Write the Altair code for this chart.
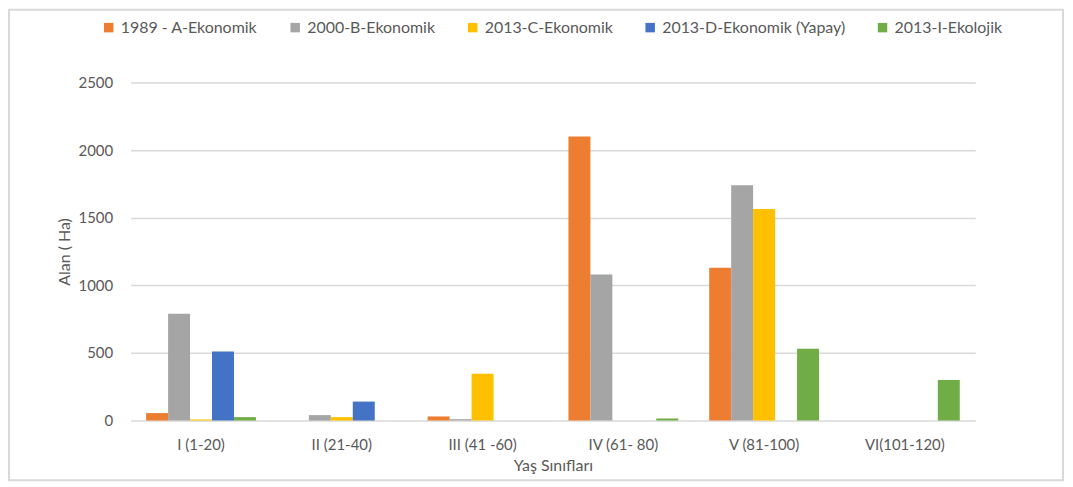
import altair as alt
import pandas as pd

categories = ["I (1-20)", "II (21-40)", "III (41 -60)", "IV (61- 80)", "V (81-100)", "VI(101-120)"]
series = ["1989 - A-Ekonomik", "2000-B-Ekonomik", "2013-C-Ekonomik", "2013-D-Ekonomik (Yapay)", "2013-I-Ekolojik"]
colors = ["#ED7D31", "#A5A5A5", "#FFC000", "#4472C4", "#70AD47"]

v1989A = [55, 0, 30, 2100, 1130, 0]
v2000B = [790, 40, 10, 1080, 1740, 0]
v2013C = [8, 25, 345, 0, 1565, 0]
v2013D = [510, 140, 0, 0, 0, 0]
v2013I = [25, 0, 0, 15, 530, 300]

rows = []
for s, vals in zip(series, [v1989A, v2000B, v2013C, v2013D, v2013I]):
    for c, v in zip(categories, vals):
        rows.append({"cat": c, "series": s, "value": v})
df = pd.DataFrame(rows)

font = "Lato"
gray = "#595959"

bars = alt.Chart(df).mark_bar().encode(
    x=alt.X("cat:N", sort=categories, title="Yaş Sınıfları",
            scale=alt.Scale(paddingInner=0.22, paddingOuter=0.11),
            axis=alt.Axis(labelAngle=0, domain=False, ticks=False, labelPadding=17,
                          labelFontSize=15, labelColor=gray, titleFontSize=16,
                          titleColor=gray, titleFontWeight="normal", titlePadding=5)),
    xOffset=alt.XOffset("series:N", sort=series, scale=alt.Scale(paddingInner=0, paddingOuter=0)),
    y=alt.Y("value:Q", title="Alan ( Ha)",
            scale=alt.Scale(domain=[0, 2500]),
            axis=alt.Axis(values=[0, 500, 1000, 1500, 2000, 2500], format="d", domain=False, ticks=False,
                          labelPadding=18, labelFontSize=15, labelColor=gray,
                          titleFontSize=16, titleColor=gray, titleFontWeight="normal",
                          titlePadding=6, gridColor="#D9D9D9", gridWidth=1.5)),
    color=alt.Color("series:N", sort=series,
                    scale=alt.Scale(domain=series, range=colors),
                    legend=alt.Legend(title=None, orient="none", direction="horizontal",
                                      legendX=-30, legendY=-63, symbolType="square",
                                      symbolSize=90, labelFontSize=16, labelColor=gray,
                                      labelLimit=0, columnPadding=29, labelOffset=4,
                                      symbolStrokeWidth=0)),
)

frame = alt.Chart(pd.DataFrame({"f": [0]})).mark_rect(
    fill=None, stroke="#D9D9D9", strokeWidth=2
).encode(
    x=alt.value(-122), x2=alt.value(935), y=alt.value(-73), y2=alt.value(399)
)

chart = alt.layer(frame, bars).properties(
    width=847, height=339,
    autosize=alt.AutoSizeParams(type="none"),
    padding={"left": 123, "top": 74, "right": 90, "bottom": 70},
).configure(
    font=font, background="white"
).configure_view(stroke=None)

chart.save("out.html", embed_options={"renderer": "svg", "actions": False})
